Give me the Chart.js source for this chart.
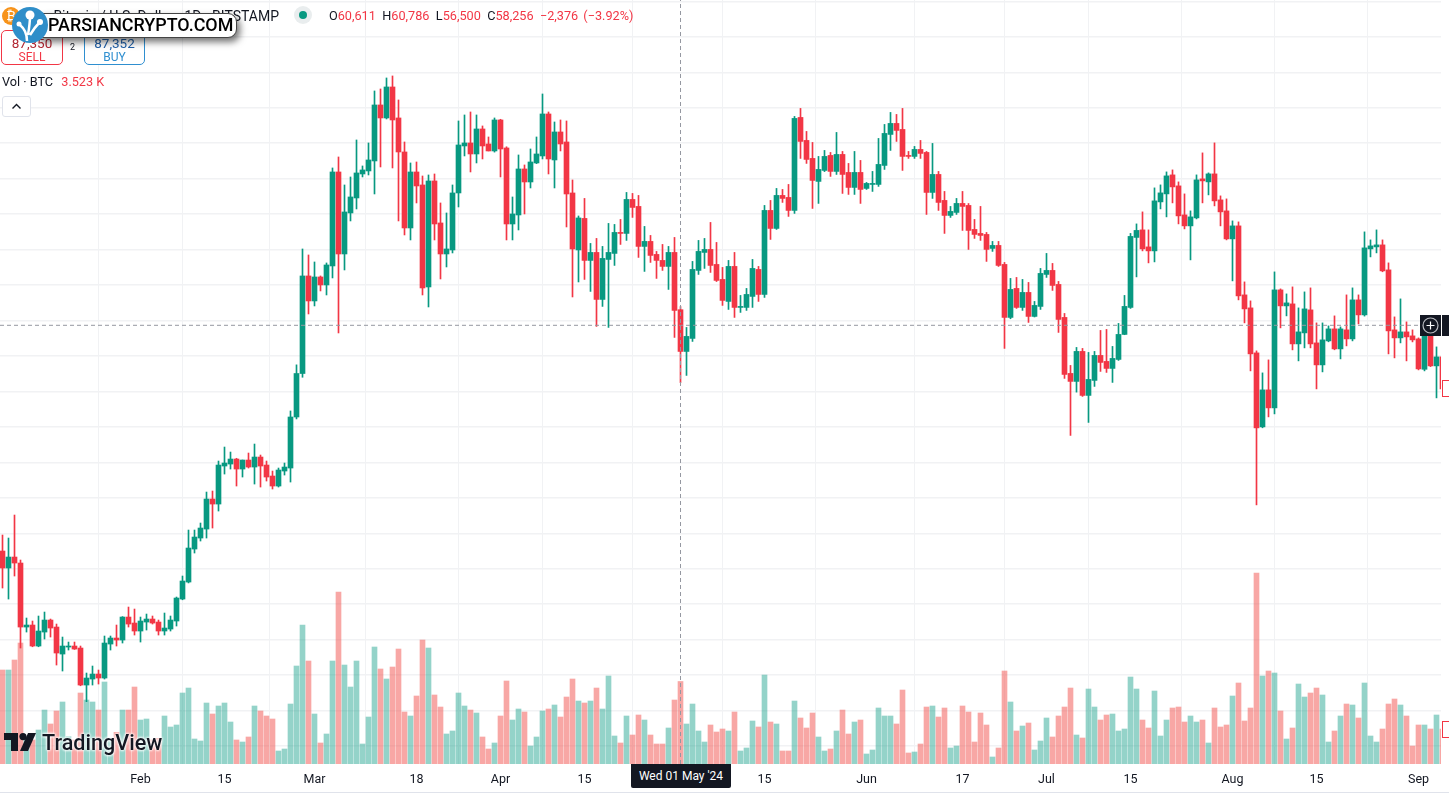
<!DOCTYPE html>
<html>
<head>
<meta charset="utf-8">
<title>Bitcoin / U.S. Dollar</title>
<script src="https://cdn.jsdelivr.net/npm/chart.js@4"></script>
<style>
  html, body { margin: 0; padding: 0; background: #fff; overflow: hidden; }
  #wrap { position: relative; width: 1449px; height: 795px; font-family: Roboto, "Liberation Sans", sans-serif; color: #131722; }
  #chart { position: absolute; left: 0; top: 0; }
  .abs { position: absolute; white-space: nowrap; }
  .red { color: #f23645; }
  .box { position: absolute; box-sizing: border-box; border-radius: 5px; background: #fff; text-align: center; font-size: 12px; }
  .box div { line-height: 14px; }
</style>
</head>
<body>
<div id="wrap">
  <canvas id="chart" width="1449" height="795"></canvas>

  <!-- header -->
  <div class="abs" style="left:2px;top:7px;width:18px;height:18px;border-radius:50%;background:#f7931a;color:#fff;font-size:13px;line-height:18px;text-align:center;">₿</div>
  <div class="abs" style="right:1170px;top:7px;font-size:14px;line-height:18px;">Bitcoin / U.S. Dollar · 1D · BITSTAMP</div>
  <div class="abs" style="left:294px;top:6px;width:18px;height:18px;border-radius:50%;background:#e9edee;"></div>
  <div class="abs" style="left:299px;top:11px;width:8px;height:8px;border-radius:50%;background:#089981;"></div>
  <div class="abs" style="left:329px;top:7px;font-size:12.7px;line-height:18px;word-spacing:3.2px;">O<span class="red">60,611</span> H<span class="red">60,786</span> L<span class="red">56,500</span> C<span class="red">58,256</span> <span class="red" style="word-spacing:2px;">−2,376 (−3.92%)</span></div>

  <!-- sell / buy -->
  <div class="box" style="left:1px;top:30px;width:62px;height:35px;border:1px solid #f23645;color:#f23645;padding-top:5px;"><div style="color:#b22833;font-size:13.5px;">87,350</div><div>SELL</div></div>
  <div class="abs" style="left:70px;top:41px;font-size:9px;line-height:12px;">2</div>
  <div class="box" style="left:84px;top:30px;width:61px;height:35px;border:1px solid #2f8fd0;color:#2f8fd0;padding-top:5px;"><div style="color:#1f5fa8;font-size:13.5px;">87,352</div><div>BUY</div></div>

  <!-- volume legend -->
  <div class="abs" style="left:2px;top:73px;font-size:12.7px;line-height:18px;">Vol · BTC <span class="red" style="margin-left:5px;">3.523 K</span></div>
  <div class="abs" style="left:2px;top:96px;width:27px;height:19px;border:1px solid #e0e3eb;border-radius:3px;background:#fff;">
    <svg width="27" height="19"><path d="M9.5 11.5 L13.5 7.5 L17.5 11.5" fill="none" stroke="#131722" stroke-width="1.4"/></svg>
  </div>

  <!-- watermark -->
  <div class="abs" style="left:34px;top:13px;width:203px;height:25px;border-radius:9px;background:#fff;border:1px solid #444;box-sizing:border-box;box-shadow:3px 4px 7px rgba(0,0,0,.55);"></div>
  <div class="abs" style="left:48px;top:14px;font-size:17.9px;font-weight:500;line-height:22px;color:#000;">PARSIANCRYPTO.COM</div>
  <svg class="abs" style="left:12px;top:3px;" width="36" height="44">
    <circle cx="18" cy="22" r="18" fill="#2f8ec9"/>
    <path d="M15 38 C15 30 13 26 8 22 M16 32 C17 26 18 20 18 13 M18 32 C21 27 23 24 27 20" fill="none" stroke="#fff" stroke-width="2.5"/>
    <circle cx="18" cy="12" r="4.5" fill="#fff"/><circle cx="7" cy="21" r="2.5" fill="#fff"/><circle cx="28" cy="19" r="3" fill="#fff"/>
  </svg>

  <!-- TradingView logo -->
  <svg class="abs" style="left:4px;top:733px;" width="33" height="20">
    <path d="M0 0 H14 V18 H7 V7 H0 Z" fill="#131722"/><circle cx="19" cy="3.6" r="3.6" fill="#131722"/><path d="M24 0 H32 L24 18 H16 Z" fill="#131722"/>
  </svg>
  <div class="abs" style="left:42px;top:729px;font-size:21.6px;font-weight:500;line-height:28px;color:#131722;text-shadow:0 0 3px #fff,0 0 3px #fff,0 0 3px #fff;">TradingView</div>

  <!-- crosshair labels and clipped price scale -->
  <div class="abs" style="left:631px;top:764px;width:100px;height:24px;background:#131722;color:#fff;font-size:12px;line-height:24px;text-align:center;border-radius:0 0 2px 2px;">Wed 01 May '24</div>
  <div class="abs" style="left:1420px;top:315px;width:21px;height:21px;background:#131722;">
    <svg width="21" height="21"><circle cx="10.5" cy="10.5" r="7.5" fill="none" stroke="#b8bac0" stroke-width="1.2"/><path d="M10.5 6.5 V14.5 M6.5 10.5 H14.5" stroke="#fff" stroke-width="1.2"/></svg>
  </div>
  <div class="abs" style="left:1442px;top:315px;width:7px;height:21px;background:#131722;"></div>
  <div class="abs" style="left:1442px;top:380px;width:8px;height:17px;box-sizing:border-box;border:1px solid #f23645;background:#fff;"></div>
  <div class="abs" style="left:1442px;top:721px;width:8px;height:17px;box-sizing:border-box;border:1px solid #f23645;background:#fff;"></div>
  <div class="abs" style="left:0;top:792px;width:1449px;height:1px;background:#e0e3eb;"></div>
</div>

<script>
// daily candles, first one is 9 Jan 2024
const opens = [
  47000,46041,46661,46323,42713,42826,41642,42431,43108,42713,
  41190,41585,41642,41529,39442,39780,40062,39837,41754,42093,
  41980,43277,42939,42488,42995,43164,42995,42488,42600,43052,
  44292,45251,47112,47733,48240,49932,49650,51794,51906,52188,
  51624,52132,51737,52301,51850,51230,50666,51512,51681,54559,
  57012,62514,61104,62457,62006,63078,68379,63754,66067,66913,
  68266,68436,69000,72158,71425,73173,71425,69507,65221,68379,
  67646,61893,67872,65503,63754,63980,67195,69846,70015,69394,
  70804,69958,69564,71312,69733,65446,65954,68548,67815,68887,
  69282,71650,69056,70635,70071,67195,63980,65759,63390,63841,
  61190,63446,63785,64969,64913,66830,66436,64180,64462,63729,
  63390,63052,63841,60611,58256,58991,62826,63841,64010,63164,
  62318,61078,63052,60739,60739,61360,62882,61472,66210,65195,
  67056,66943,66210,71455,70158,69143,67846,68466,69312,68410,
  69368,68353,67507,68353,67451,67676,67676,68748,70496,71117,
  70778,69312,69256,69650,69481,67225,68240,66774,65928,66097,
  66605,66492,65138,64913,64856,64067,64236,63164,60175,61811,
  60739,61585,60232,60796,62600,62826,62036,60175,57017,56566,
  58258,55776,56622,58032,57694,57299,57806,59216,60739,64687,
  65112,64153,63928,66691,67142,68214,67594,65958,65338,65789,
  67988,67819,68270,66804,66184,64604,65338,61446,60713,58175,
  54001,56088,55073,61728,60826,60938,58682,59303,60600,58739,
  57498,58852,59528,58400,59472,58964,61164,60318,64040,64153,
  64266,62856,59472,59021,59359,59134,58964,57250,59130,57442,
  57949
];
const highs = [
  47902,47733,49030,46492,43221,43052,43334,43559,43164,42882,
  42149,41867,41867,41642,40119,40514,40288,42206,42206,42826,
  43300,43841,43728,43277,43446,43334,43108,43503,43334,44405,
  45590,48184,48184,48579,50327,50384,52076,52865,52583,52230,
  52132,52527,53034,52414,52076,51512,51681,51963,54900,57500,
  64036,63698,63303,62514,63247,68605,69225,67646,68097,70184,
  68718,70015,72948,73060,73681,73794,72440,70071,68887,68943,
  68153,68210,68266,66631,66067,67646,71256,71594,71763,71594,
  70974,70353,71425,71350,69800,66969,69338,68774,69676,70353,
  72778,71763,71199,71312,71256,67928,65898,66887,64349,64631,
  64180,65477,65420,65702,67225,67169,67056,65308,64800,63898,
  64292,64180,64687,60786,59611,63334,64518,64631,65533,64405,
  62995,63390,63841,61416,61811,63446,63052,66492,66774,67451,
  67394,67676,71512,71963,70666,70045,69256,69594,69481,70609,
  69537,68861,69537,69030,67789,68410,70271,71060,71737,71624,
  71963,69537,69820,70158,69537,69989,68410,67282,66436,66887,
  67281,66600,65702,66436,64969,64462,64462,63277,62375,62431,
  62318,62149,61078,62939,63785,63221,62206,60400,57468,58483,
  58427,58201,58258,59442,59498,58540,59837,61416,64913,65450,
  66127,65112,67481,67650,68383,68496,67819,67142,66184,68214,
  69455,68327,70019,67030,66860,65620,65563,62179,61108,58288,
  57047,57780,62743,61784,61502,61897,60713,61615,61841,59867,
  59867,59698,60262,59641,61446,61841,61446,65000,64548,65112,
  64548,63251,60205,61220,59923,59472,59020,59800,59800,58513,
  58005
];
const lows = [
  44913,44292,45590,41529,42431,41600,41600,42036,42149,40570,
  40232,41416,41450,39400,38502,39442,39498,39780,41416,41642,
  41811,42713,42262,41867,42544,42882,42262,42262,42488,42770,
  44250,45200,46887,47564,47733,48297,49256,51342,51624,50666,
  51173,51681,50778,50609,50948,50497,50609,51286,50891,54450,
  56800,60370,60822,61668,61442,62401,59299,62852,65616,66292,
  68097,68210,67138,68661,71368,68605,65616,64826,64544,66631,
  61442,60765,64544,62344,63021,63811,66405,69282,68379,68887,
  69112,69564,69500,68097,64544,64544,65108,66010,67477,68850,
  69112,68266,67477,69564,65277,61329,62175,62318,61642,59668,
  60796,59611,63108,64292,64518,65815,63559,62770,63277,62375,
  62826,61754,59047,56500,56904,58821,62600,62939,62713,62200,
  60852,60626,60175,60457,60570,60739,61078,61303,64574,65138,
  66661,65872,66041,69143,68861,66323,66605,68400,68128,68240,
  67169,67112,67112,66605,67394,67281,67564,68522,69594,70102,
  68466,69143,69143,69143,65984,66887,66210,64913,65815,65984,
  65082,64010,64631,64518,63334,63898,63050,58427,60100,60683,
  60570,59893,60200,60626,62431,61698,59329,56735,53520,55962,
  55720,54253,56284,57130,57073,56509,57750,59200,60683,62461,
  63928,63251,63307,66296,65845,66635,65450,65168,63420,65732,
  66635,67086,66466,65338,64548,62236,61164,59867,57160,49602,
  53950,54565,54734,59585,60262,58344,57724,58457,58457,56144,
  57103,58800,58350,57836,58570,58852,59810,60250,63589,63815,
  62750,58118,57893,58739,57724,58795,57216,57160,57400,55637,
  56144
];
const closes = [
  46041,46661,46323,42713,42826,41642,42488,43108,42657,41247,
  41642,41642,41472,39442,39837,40062,39837,41811,42093,41980,
  43277,42882,42488,43052,43164,42939,42488,42657,43108,44349,
  45308,47169,47789,48297,49932,49650,51850,51963,52188,51624,
  52132,51737,52301,51794,51173,50666,51568,51737,54559,57012,
  62514,61104,62457,62006,63134,68379,63754,66123,66969,68323,
  68492,69056,72158,71425,73173,71312,69507,65221,68379,67590,
  61837,67872,65446,63754,64036,67195,69902,70015,69394,70804,
  69846,69564,71312,69676,65446,66010,68548,67815,68943,69394,
  71650,69112,70635,69958,67138,64036,65785,63390,63841,61190,
  63503,63841,64969,64913,66830,66379,64180,64462,63672,63390,
  63052,63841,60570,58256,59104,62882,63898,64010,63108,62262,
  61134,63052,60739,60796,61472,62939,61472,66210,65195,67056,
  66887,66210,71399,70102,69086,67902,68522,69256,68410,69368,
  68240,67507,68353,67394,67733,67733,68804,70553,71117,70722,
  69256,69256,69650,69425,67225,68240,66661,65928,66154,66605,
  66436,65082,64856,64800,64010,64236,63108,60175,61754,60739,
  61585,60232,60852,62657,62826,61980,60062,56960,56566,58258,
  55776,56678,58032,57637,57299,57863,59216,60796,64744,65082,
  64040,63928,66748,67199,68158,67537,65902,65338,65845,67932,
  67876,68270,66748,66127,64604,65338,61390,60656,58118,53945,
  56088,55073,61728,60826,60995,58682,59359,60656,58682,57498,
  58908,59528,58400,59528,58964,61164,60318,64097,64210,64266,
  62800,59416,59021,59359,59077,58908,57272,59130,57442,57949,
  56144
];
const volumes = [
  4013,4013,4440,5165,1167,1025,1451,2305,1708,2263,
  2647,1167,1025,3031,2732,2647,2305,3501,1025,1352,
  2305,2305,3287,1878,1921,1025,1096,2049,1580,1665,
  3031,3244,1067,982,2604,2135,2476,2604,1793,1025,
  939,1153,2476,2263,2049,1921,555,640,2561,4184,
  5934,4397,2135,897,1281,4397,7343,4226,3287,4397,
  854,2006,4995,4056,3629,4141,4909,2220,2049,2903,
  5294,4952,2946,2433,1281,1409,3031,2476,2305,2177,
  1153,640,897,2049,3543,1878,2348,2220,768,1153,
  2263,2348,2519,2006,2860,3629,2689,2604,2689,3244,
  2348,3757,1195,897,2049,1238,2092,1878,1238,854,
  854,1537,2732,3523,1708,2561,1409,939,1665,1366,
  1494,1409,2220,555,683,1836,1580,3799,1793,1708,
  555,555,2689,1964,1537,2177,1153,555,640,1409,
  2305,1281,1793,1878,427,598,2391,2049,2049,1708,
  3159,470,512,854,2433,2476,2006,2391,683,768,
  2476,2220,939,2177,1665,299,683,3970,2647,1409,
  1622,1750,598,982,1964,1153,2049,2433,3244,1238,
  1110,3202,2433,1878,2092,2135,1409,1494,3714,3202,
  1878,1537,3116,1195,1878,2391,2433,1793,2049,1793,
  1878,897,2391,1580,1665,2903,3458,1836,2391,8154,
  3757,3970,3885,2263,1067,1537,3415,2860,3031,3244,
  2946,939,1409,2049,2561,2519,1964,3458,1195,939,
  1494,2561,2775,2519,2049,768,1665,1665,1494,2092,
  1494
];

// time axis
const timeIndexes = [23, 37, 52, 69, 83, 97, 113, 127, 144, 160, 174, 188, 205, 219, 236];
const timeLabels = ['Feb', '15', 'Mar', '18', 'Apr', '15', '', '15', 'Jun', '17', 'Jul', '15', 'Aug', '15', 'Sep'];
const priceTicks = [36000, 38000, 40000, 42000, 44000, 46000, 48000, 50000, 52000, 54000, 56000, 58000, 60000, 62000, 64000, 66000, 68000, 70000, 72000, 74000, 76000, 78000];

// crosshair
const crossIndex = 113;
const crossPrice = 59731;

const UP = '#089981';
const DOWN = '#f23645';
const UP_VOL = 'rgba(8,153,129,0.43)';
const DOWN_VOL = 'rgba(242,80,75,0.5)';
const GRID = '#f1f2f4';

// visible window of the panes
const xMin = -0.41667, xMax = 239.75;
const priceMin = 34988, priceMax = 78078;
const volumeMax = 32620;

const index = opens.map((_, i) => i);
const candleColors = index.map(i => closes[i] >= opens[i] ? UP : DOWN);
const volumeColors = index.map(i => closes[i] >= opens[i] ? UP_VOL : DOWN_VOL);

new Chart(document.getElementById('chart').getContext('2d'), {
  data: {
    datasets: [
      {
        type: 'line',
        order: 0,
        yAxisID: 'y',
        data: [{ x: crossIndex, y: priceMin }, { x: crossIndex, y: priceMax }],
        borderColor: '#9598a1',
        borderWidth: 1,
        borderDash: [4, 3],
        pointRadius: 0
      },
      {
        type: 'line',
        order: 0,
        yAxisID: 'y',
        data: [{ x: xMin, y: crossPrice }, { x: xMax, y: crossPrice }],
        borderColor: '#9598a1',
        borderWidth: 1,
        borderDash: [4, 3],
        pointRadius: 0
      },
      {
        type: 'bar',
        order: 1,
        yAxisID: 'y',
        grouped: false,
        barThickness: 5,
        minBarLength: 1,
        data: index.map(i => ({ x: i, y: [opens[i], closes[i]] })),
        backgroundColor: candleColors
      },
      {
        type: 'bar',
        order: 2,
        yAxisID: 'y',
        grouped: false,
        barThickness: 1,
        data: index.map(i => ({ x: i, y: [lows[i], highs[i]] })),
        backgroundColor: candleColors
      },
      {
        type: 'bar',
        order: 3,
        yAxisID: 'v',
        grouped: false,
        barThickness: 5,
        data: index.map(i => ({ x: i, y: volumes[i] })),
        backgroundColor: volumeColors
      }
    ]
  },
  options: {
    responsive: false,
    animation: false,
    events: [],
    layout: { padding: { left: 0, top: 0, right: 8, bottom: 0 } },
    plugins: { legend: { display: false }, tooltip: { enabled: false } },
    scales: {
      x: {
        type: 'linear',
        min: xMin,
        max: xMax,
        offset: false,
        afterBuildTicks: axis => { axis.ticks = timeIndexes.map(v => ({ value: v })); },
        afterFit: axis => { axis.height = 31; },
        grid: { color: GRID, lineWidth: 1, drawTicks: false },
        border: { display: false },
        ticks: {
          autoSkip: false,
          maxRotation: 0,
          padding: 8,
          color: '#131722',
          font: { family: 'Roboto', size: 12.5 },
          callback: v => timeLabels[timeIndexes.indexOf(v)]
        }
      },
      y: {
        position: 'left',
        min: priceMin,
        max: priceMax,
        afterBuildTicks: axis => { axis.ticks = priceTicks.map(v => ({ value: v })); },
        afterFit: axis => { axis.width = 0; },
        grid: { color: GRID, lineWidth: 1.5, drawTicks: false },
        border: { display: false },
        ticks: { display: false }
      },
      v: {
        display: false,
        position: 'right',
        min: 0,
        max: volumeMax,
        grid: { display: false }
      }
    }
  }
});
</script>
</body>
</html>
